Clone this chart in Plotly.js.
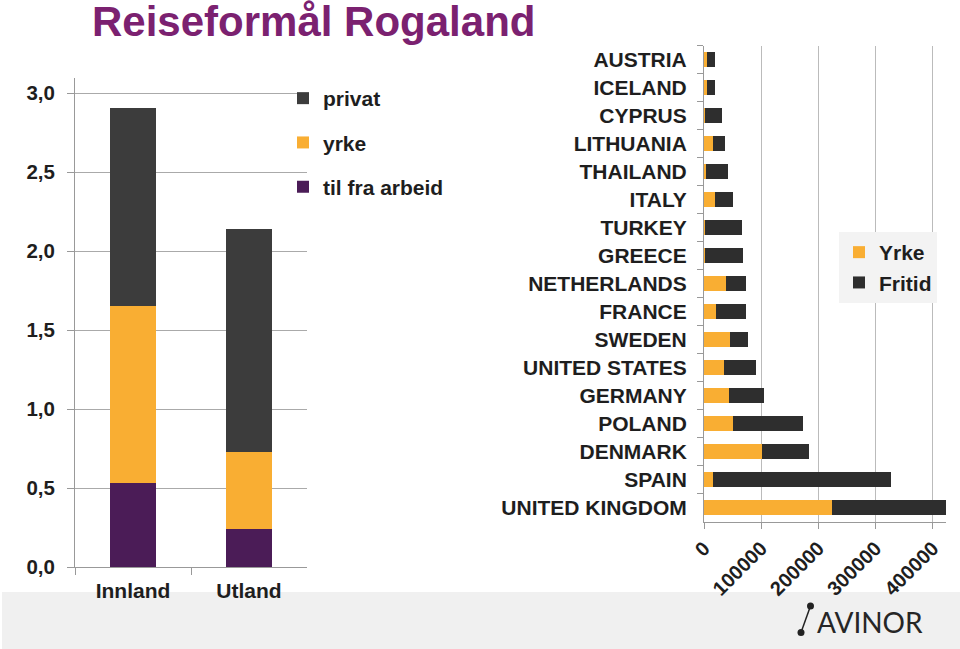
<!DOCTYPE html>
<html>
<head>
<meta charset="utf-8">
<script src="https://cdn.plot.ly/plotly-3.0.1.min.js"></script>
<style>
  html, body { margin: 0; padding: 0; background: #fff; }
  #chart { width: 960px; height: 649px; }
</style>
</head>
<body>
<div id="chart"></div>
<script>
// left chart: travel purpose, Rogaland
var regions = ['Innland', 'Utland'];
var arbeid = [0.53, 0.24];
var yrke = [1.12, 0.49];
var privat = [1.26, 1.41];

// right chart: passengers per destination country
var countries = ['AUSTRIA', 'ICELAND', 'CYPRUS', 'LITHUANIA', 'THAILAND', 'ITALY', 'TURKEY',
  'GREECE', 'NETHERLANDS', 'FRANCE', 'SWEDEN', 'UNITED STATES', 'GERMANY', 'POLAND',
  'DENMARK', 'SPAIN', 'UNITED KINGDOM'];
var yrkeLand = [4700, 5000, 1000, 16000, 4000, 19000, 2000, 2500, 38500, 21000, 45000,
  34500, 43000, 50000, 102000, 15000, 223000];
var fritidLand = [14100, 14000, 30000, 20000, 37500, 32500, 64000, 65500, 35000, 52500, 31500,
  56000, 61000, 123000, 81000, 312500, 201500];

var dark = '#3c3c3c';
var orange = '#F9AE33';
var purple = '#4B1C57';
var font = 'Liberation Sans, Arial, sans-serif';

var data = [
  { type: 'bar', name: 'til fra arbeid', x: regions, y: arbeid, marker: { color: purple },
    xaxis: 'x', yaxis: 'y', legend: 'legend', legendgroup: 'a', legendrank: 3, width: 0.4 },
  { type: 'bar', name: 'yrke', x: regions, y: yrke, marker: { color: orange },
    xaxis: 'x', yaxis: 'y', legend: 'legend', legendgroup: 'b', legendrank: 2, width: 0.4 },
  { type: 'bar', name: 'privat', x: regions, y: privat, marker: { color: dark },
    xaxis: 'x', yaxis: 'y', legend: 'legend', legendgroup: 'c', legendrank: 1, width: 0.4 },
  { type: 'bar', orientation: 'h', name: 'Yrke', y: countries, x: yrkeLand,
    marker: { color: orange }, xaxis: 'x2', yaxis: 'y2', legend: 'legend2' },
  { type: 'bar', orientation: 'h', name: 'Fritid', y: countries, x: fritidLand,
    marker: { color: '#2e2e2e' }, xaxis: 'x2', yaxis: 'y2', legend: 'legend2' }
];

function bold(size) {
  return { family: font, size: size, color: '#1e1e1e', weight: 'bold' };
}

var layout = {
  width: 960, height: 649,
  margin: { l: 0, r: 0, t: 0, b: 0 },
  paper_bgcolor: '#fff', plot_bgcolor: 'rgba(0,0,0,0)',
  barmode: 'stack', bargap: 0.45,
  separators: ', ',
  showlegend: true,
  title: {
    text: 'Reiseformål Rogaland',
    font: { family: font, size: 42, color: '#7B2170', weight: 'bold' },
    x: 92 / 960, xanchor: 'left', y: 0.99, yanchor: 'top'
  },
  xaxis: {
    domain: [75 / 960, 307 / 960], anchor: 'y', type: 'category',
    showline: true, linecolor: '#999', ticks: 'outside', tickson: 'boundaries',
    ticklen: 7, tickcolor: '#999', tickfont: bold(21), showgrid: false,
    ticklabelstandoff: 5
  },
  yaxis: {
    domain: [(649 - 567) / 649, (649 - 77.5) / 649], anchor: 'x',
    range: [0, 3.1], dtick: 0.5, tickformat: '.1f',
    showline: true, linecolor: '#999', ticks: 'outside', ticklen: 7, tickcolor: '#999',
    gridcolor: '#aaa', zeroline: false, tickfont: bold(20.5), ticklabelstandoff: 8
  },
  xaxis2: {
    domain: [704 / 960, 946 / 960], anchor: 'y2',
    range: [0, 423000], dtick: 100000, tickformat: 'd', tickangle: -45,
    showline: true, linecolor: '#999', ticks: 'outside', ticklen: 6, tickcolor: '#999',
    gridcolor: '#bbb', zeroline: false, tickfont: bold(20)
  },
  yaxis2: {
    domain: [(649 - 521.7) / 649, (649 - 45.5) / 649], anchor: 'x2',
    type: 'category', autorange: 'reversed',
    showline: true, linecolor: '#999', ticks: 'outside', tickson: 'boundaries',
    ticklen: 6, tickcolor: '#999', showgrid: false, ticklabelstandoff: 12,
    tickfont: bold(21)
  },
  legend: {
    x: 283 / 960, xanchor: 'left', y: (649 - 78) / 649, yanchor: 'top',
    traceorder: 'grouped', tracegroupgap: 14, bgcolor: 'rgba(0,0,0,0)',
    font: bold(21)
  },
  legend2: {
    x: 839 / 960, xanchor: 'left', y: (649 - 232) / 649, yanchor: 'top',
    traceorder: 'normal', bgcolor: '#f3f3f3', font: bold(21)
  },
  shapes: [
    { type: 'rect', xref: 'paper', yref: 'paper', x0: 2 / 960, x1: 1, y0: 0, y1: 57 / 649,
      fillcolor: '#f0f0f0', line: { width: 0 }, layer: 'below' },
    { type: 'line', xref: 'paper', yref: 'paper', x0: 810.5 / 960, y0: (649 - 606) / 649,
      x1: 801 / 960, y1: (649 - 632.5) / 649, line: { color: '#222', width: 1.5 } },
    { type: 'circle', xref: 'paper', yref: 'paper', x0: 807 / 960, x1: 814 / 960,
      y0: (649 - 609.5) / 649, y1: (649 - 602.5) / 649, fillcolor: '#222', line: { width: 0 } },
    { type: 'circle', xref: 'paper', yref: 'paper', x0: 797.5 / 960, x1: 804.5 / 960,
      y0: (649 - 636) / 649, y1: (649 - 629) / 649, fillcolor: '#222', line: { width: 0 } }
  ],
  annotations: [
    { text: 'AVINOR', xref: 'paper', yref: 'paper', x: 815 / 960, xanchor: 'left',
      y: (649 - 621.5) / 649, yanchor: 'middle', showarrow: false,
      font: { family: 'Lato, sans-serif', size: 28, color: '#262626' } }
  ]
};

Plotly.newPlot('chart', data, layout, { staticPlot: true });
</script>
</body>
</html>
